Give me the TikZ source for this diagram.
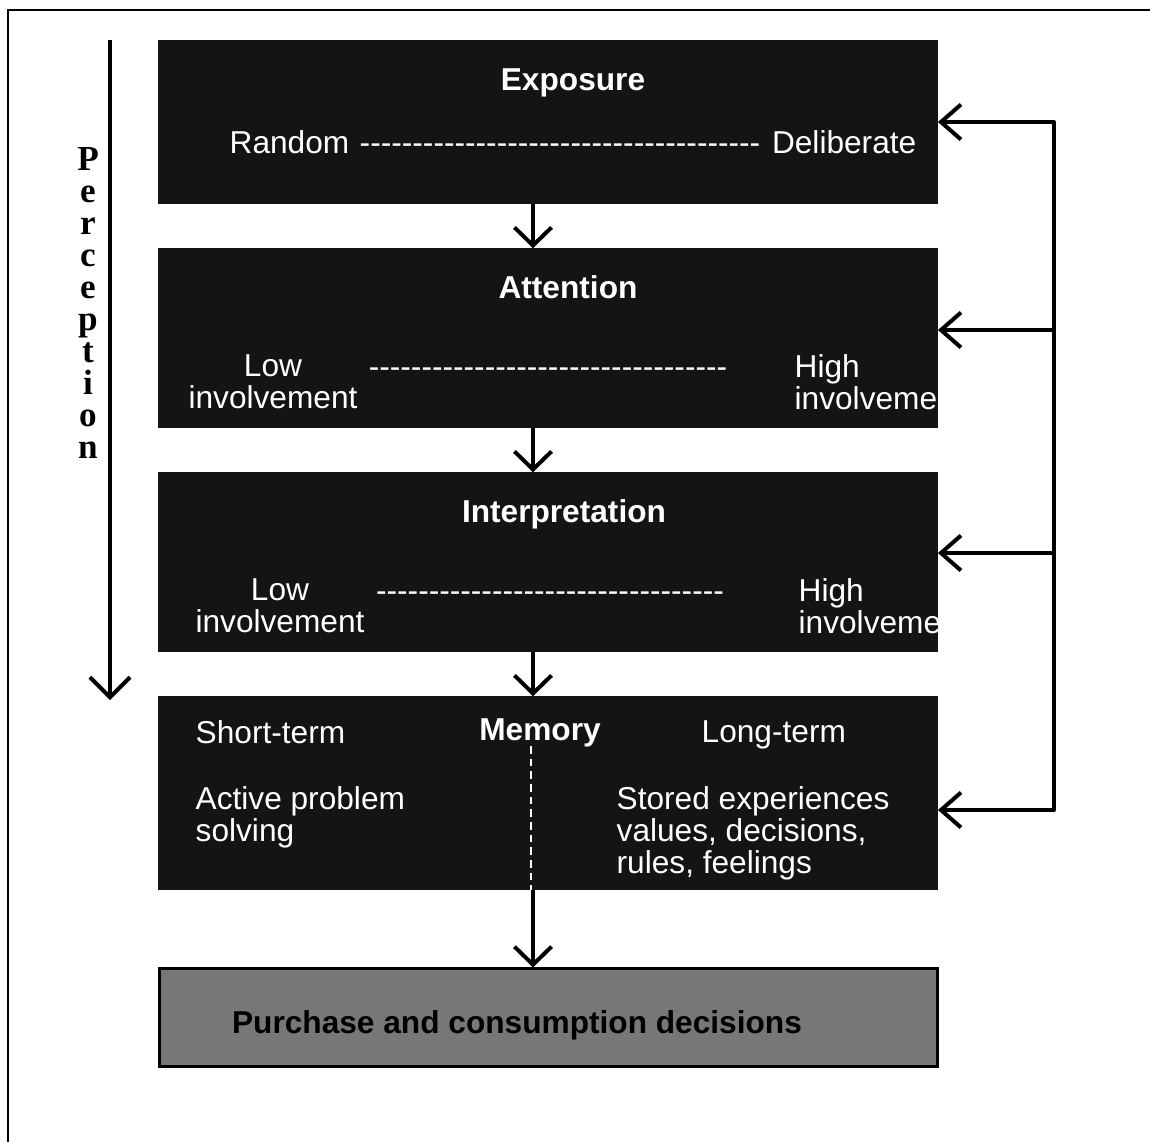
\documentclass[tikz,border=0pt]{standalone}
\usepackage{fontspec}
\setmainfont{Liberation Sans}
\newfontfamily\perceptionfont{Liberation Serif}
\usetikzlibrary{arrows.meta}
\definecolor{stagefill}{HTML}{141414}
\definecolor{decisionfill}{HTML}{777777}
\definecolor{stagetext}{HTML}{FFFFFF}
% a run of plain hyphens (no en/em dash ligatures)
\ExplSyntaxOn
\NewDocumentCommand\hyphenrun{m}{\prg_replicate:nn{#1}{-{}}}
\ExplSyntaxOff
\begin{document}
\begin{tikzpicture}[x=0.01cm,y=-0.01cm,
  stagebox/.style={draw=stagefill, fill=stagefill, minimum width=7.78cm, inner sep=0},
  decisionbox/.style={draw=black, line width=0.85pt, fill=decisionfill, minimum width=7.77cm, minimum height=0.97cm, inner sep=0},
  lbl/.style={text=stagetext, inner sep=0, font=\fontsize{9}{9.1}\selectfont},
  heading/.style={lbl, font=\bfseries\fontsize{9}{9.1}\selectfont},
  flow/.style={line width=1.14pt, -{Straight Barb[length=0.18cm, width=0.37cm]}},
  feedback/.style={line width=1.14pt, line join=round,
    {Straight Barb[length=0.2cm, width=0.35cm]}-{Straight Barb[length=0.2cm, width=0.35cm]}},
  branch/.style={line width=1.14pt, -{Straight Barb[length=0.2cm, width=0.35cm]}},
  divider/.style={draw=stagetext, line width=0.35pt, dash pattern=on 2.2pt off 1.4pt},
]
\useasboundingbox (0,0) rectangle (1150,1142);

% frame
\draw[line width=0.85pt] (8,1150) -- (8,10) -- (1160,10);

% stages
\node[stagebox, minimum height=1.62cm] (exposure) at (548,122) {};
\node[stagebox, minimum height=1.78cm] (attention) at (548,338) {};
\node[stagebox, minimum height=1.78cm] (interpretation) at (548,562) {};
\node[stagebox, minimum height=1.92cm] (memory) at (548,793) {};
\node[decisionbox] (purchase) at (548.5,1017.5) {};

% exposure
\node[heading, anchor=base] (expT) at (573,90) {Exposure};
\node[lbl, anchor=base west] (expL) at (229,153) {Random};
\node[lbl, anchor=base] (expD) at (560,153) {\hyphenrun{38}};
\node[lbl, anchor=base east] (expR) at (917,153) {Deliberate};

% attention
\node[heading, anchor=base] (attT) at (568,298) {Attention};
\node[lbl, anchor=north, align=center] (attL) at (273,354) {Low\\involvement};
\node[lbl, anchor=base] (attD) at (548,377) {\hyphenrun{34}};
\node[lbl, anchor=north west, align=left] (attR) at (794,354) {High\\involvement};

% interpretation
\node[heading, anchor=base] (intT) at (564,522) {Interpretation};
\node[lbl, anchor=north, align=center] (intL) at (280,578) {Low\\involvement};
\node[lbl, anchor=base] (intD) at (550,601) {\hyphenrun{33}};
\node[lbl, anchor=north west, align=left] (intR) at (798,578) {High\\involvement};

% memory
\node[heading, anchor=base] (memT) at (540,740) {Memory};
\node[lbl, anchor=base west] (memS) at (195,743) {Short-term};
\node[lbl, anchor=base west] (memLg) at (701,742) {Long-term};
\node[lbl, anchor=north west, align=left] (memA) at (195,786) {Active problem\\solving};
\node[lbl, anchor=north west, align=left] (memB) at (616,786) {Stored experiences\\values, decisions,\\rules, feelings};
\coordinate (divtop) at (531,746);
\draw[divider] (divtop) -- (divtop |- memory.south);

% decision
\node[inner sep=0, anchor=base, font=\bfseries\fontsize{9}{9.1}\selectfont] (purT) at (517,1033) {Purchase and consumption decisions};

% main flow
\coordinate (spine) at (533,0);
\draw[flow] (exposure.south -| spine) -- (attention.north -| spine);
\draw[flow] (attention.south -| spine) -- (interpretation.north -| spine);
\draw[flow] (interpretation.south -| spine) -- (memory.north -| spine);
\draw[flow] (memory.south -| spine) -- (purchase.north -| spine);

% feedback loop
\coordinate (fbtop) at (1054,122);
\coordinate (fbbot) at (1054,810);
\coordinate (fbatt) at (1054,330);
\coordinate (fbint) at (1054,553);
\draw[feedback] (exposure.east |- fbtop) -- (fbtop) -- (fbbot) -- (memory.east |- fbbot);
\draw[branch] (fbatt) -- (attention.east |- fbatt);
\draw[branch] (fbint) -- (interpretation.east |- fbint);

% perception axis
\coordinate (pstart) at (110,40);
\coordinate (pend) at (110,700);
\draw[flow, -{Straight Barb[length=0.2cm, width=0.4cm]}] (pstart) -- (pend);
\node[anchor=north, inner sep=0, align=center, font=\perceptionfont\bfseries\fontsize{10}{9.1}\selectfont] (perc) at (88,147)
  {P\\e\\r\\c\\e\\p\\t\\i\\o\\n};
\end{tikzpicture}
\end{document}
